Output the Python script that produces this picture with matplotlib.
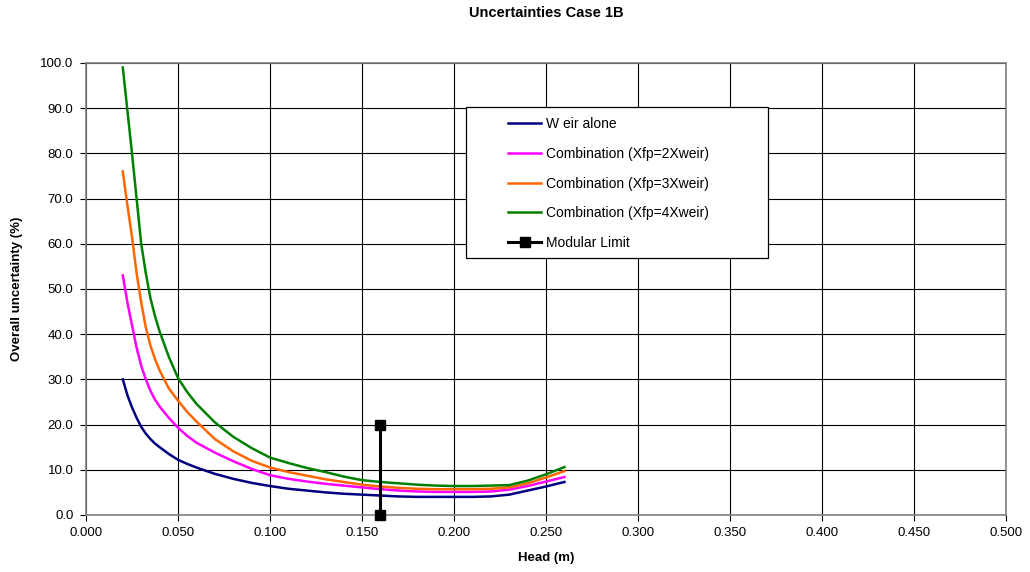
import matplotlib
matplotlib.use('Agg')
import matplotlib.pyplot as plt
from matplotlib.patches import Rectangle
from matplotlib.ticker import FormatStrFormatter, MultipleLocator

plt.rcParams['font.family'] = ['Liberation Sans', 'DejaVu Sans']

# Head (m)
head = [0.02, 0.0225, 0.025, 0.0275, 0.03, 0.0325, 0.035, 0.0375, 0.04, 0.045, 0.05,
        0.055, 0.06, 0.07, 0.08, 0.09, 0.10, 0.11, 0.12, 0.13, 0.14, 0.15, 0.16,
        0.17, 0.18, 0.19, 0.20, 0.21, 0.22, 0.23, 0.24, 0.25, 0.26]

# Overall uncertainty (%)
weir_alone = [30.0, 26.5, 23.8, 21.5, 19.5, 18.0, 16.8, 15.8, 15.0, 13.5, 12.2,
              11.3, 10.5, 9.1, 8.0, 7.1, 6.4, 5.8, 5.4, 5.0, 4.7, 4.5, 4.3,
              4.1, 4.0, 4.0, 4.0, 4.0, 4.1, 4.5, 5.4, 6.3, 7.3]
comb_2x = [53.0, 47.0, 42.0, 37.0, 33.0, 30.0, 27.5, 25.5, 24.0, 21.5, 19.3,
           17.5, 16.0, 13.8, 11.9, 10.2, 8.8, 8.0, 7.4, 6.9, 6.5, 6.1, 5.7,
           5.4, 5.2, 5.1, 5.1, 5.1, 5.2, 5.6, 6.4, 7.4, 8.4]
comb_3x = [76.0, 68.5, 61.5, 53.5, 47.0, 41.5, 37.5, 34.5, 32.0, 28.0, 25.3,
           22.8, 20.7, 16.8, 14.1, 12.0, 10.5, 9.5, 8.7, 7.9, 7.3, 6.7, 6.3,
           6.0, 5.8, 5.7, 5.7, 5.7, 5.8, 6.1, 7.0, 8.3, 9.7]
comb_4x = [99.0, 89.5, 80.0, 70.0, 60.0, 53.5, 48.0, 44.0, 40.6, 35.0, 30.3,
           27.2, 24.6, 20.5, 17.3, 14.8, 12.7, 11.5, 10.4, 9.5, 8.5, 7.7, 7.3,
           7.0, 6.7, 6.5, 6.4, 6.4, 6.5, 6.6, 7.6, 9.0, 10.6]

mod_x = [0.16, 0.16]
mod_y = [0.0, 20.0]

labels = ['W eir alone', 'Combination (Xfp=2Xweir)', 'Combination (Xfp=3Xweir)',
          'Combination (Xfp=4Xweir)', 'Modular Limit']
colors = ['#000080', '#FF00FF', '#FF6600', '#008000']

fig = plt.figure(figsize=(10.3, 5.72), dpi=100)
ax = fig.add_axes([0.0835, 0.0997, 0.8932, 0.7902])

for y, c, lab in zip([weir_alone, comb_2x, comb_3x, comb_4x], colors, labels[:4]):
    ax.plot(head, y, color=c, lw=1.8, label=lab, solid_joinstyle='round')
ax.plot(mod_x, mod_y, color='black', lw=2.2, marker='s', ms=7, label=labels[4],
        clip_on=False, zorder=5)

ax.set_xlim(0, 0.5)
ax.set_ylim(0, 100)
ax.xaxis.set_major_locator(MultipleLocator(0.05))
ax.yaxis.set_major_locator(MultipleLocator(10))
ax.xaxis.set_major_formatter(FormatStrFormatter('%.3f'))
ax.yaxis.set_major_formatter(FormatStrFormatter('%.1f'))
ax.grid(True, color='black', lw=0.8)
ax.set_axisbelow(True)
for s in ax.spines.values():
    s.set_color('#808080')
    s.set_linewidth(1.2)
ax.tick_params(labelsize=9.5, length=4, color='black', direction='out')
ax.tick_params(axis='x', pad=5)
ax.tick_params(axis='y', pad=5)

ax.set_xlabel('Head (m)', fontsize=9.5, fontweight='bold')
ax.set_ylabel('Overall uncertainty (%)', fontsize=9.5, fontweight='bold')
ax.xaxis.set_label_coords(0.5, -0.082)
ax.yaxis.set_label_coords(-0.068, 0.5)
fig.text(0.530, 0.977, 'Uncertainties Case 1B', fontsize=10.5, fontweight='bold',
         ha='center', va='center')

# legend box
ax.add_patch(Rectangle((0.413, 0.5686), 0.3283, 0.3341, transform=ax.transAxes,
                       facecolor='white', edgecolor='black', lw=0.9, zorder=6))
leg = ax.legend(loc='upper left', bbox_to_anchor=(0.4587, 0.880), fontsize=10,
                frameon=False, labelspacing=1.13, handlelength=2.4,
                handletextpad=0.35, borderpad=0, borderaxespad=0)
leg.set_zorder(7)

fig.savefig('out.png', dpi=100)
